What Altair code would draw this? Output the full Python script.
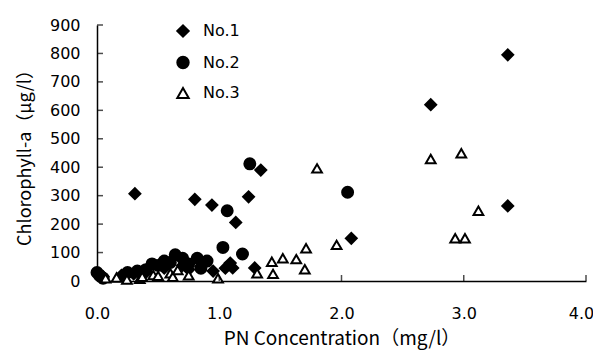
import altair as alt
import pandas as pd

# ---- data ----
series_names = ["No.1", "No.2", "No.3"]

no1_x = [0.02, 0.05, 0.20, 0.30, 0.31, 0.40, 0.55, 0.70, 0.75, 0.80, 0.85, 0.94, 0.95,
         1.05, 1.09, 1.11, 1.135, 1.24, 1.29, 1.34, 2.08, 2.73, 3.36, 3.36]
no1_y = [25, 15, 20, 25, 307, 30, 45, 55, 40, 287, 50, 267, 35,
         45, 63, 46, 206, 296, 46, 390, 150, 620, 795, 264]

no2_x = [0.00, 0.02, 0.05, 0.25, 0.33, 0.40, 0.45, 0.50, 0.55, 0.60, 0.64, 0.70,
         0.75, 0.82, 0.85, 0.90, 1.03, 1.065, 1.19, 1.25, 2.05]
no2_y = [30, 20, 10, 30, 35, 40, 60, 55, 70, 65, 92, 80,
         60, 80, 45, 70, 118, 247, 95, 412, 312]

no3_x = [0.07, 0.16, 0.245, 0.35, 0.37, 0.46, 0.50, 0.60, 0.62, 0.66, 0.75, 0.99,
         1.31, 1.43, 1.44, 1.52, 1.63, 1.70, 1.71, 1.80, 1.96, 2.73, 2.93, 2.98, 3.01, 3.12]
no3_y = [10, 12, 5, 8, 15, 21, 18, 27, 15, 39, 20, 10,
         27, 68, 25, 80, 77, 41, 115, 396, 127, 429, 150, 449, 150, 247]

x_ticks = [0, 1, 2, 3, 4]
y_ticks = [0, 100, 200, 300, 400, 500, 600, 700, 800, 900]

x_title = "PN Concentration（mg/l）"
y_title = "Chlorophyll-a（μg/l）"

rows = []
for name, xs, ys in zip(series_names, [no1_x, no2_x, no3_x], [no1_y, no2_y, no3_y]):
    for xv, yv in zip(xs, ys):
        rows.append({"series": name, "pn": xv, "chl": yv})
df = pd.DataFrame(rows)
df_xt = pd.DataFrame({"pn": x_ticks, "chl": [0] * len(x_ticks)})
df_yt = pd.DataFrame({"pn": [0] * len(y_ticks), "chl": y_ticks})

FONT = "Noto Sans CJK JP"
LFONT = "DejaVu Sans"

xscale = alt.Scale(domain=[0, 4], nice=False, zero=False)
yscale = alt.Scale(domain=[0, 900], nice=False)

xaxis = alt.Axis(values=x_ticks, format=".1f", ticks=False, tickSize=0, grid=False,
                 domainColor="black", domainWidth=1.5, labelPadding=24,
                 labelOffset={"expr": "datum.value == 4 ? -5 : 0"},
                 labelFontSize=16, labelColor="black", labelFont=LFONT, labelOverlap=False,
                 labelFlush=False,
                 title=x_title, titleFont=FONT, titleFontSize=19, titleFontWeight="normal",
                 titleColor="black", titlePadding=8)
yaxis = alt.Axis(values=y_ticks, ticks=False, tickSize=0, grid=False,
                 domainColor="black", domainWidth=1.5, labelPadding=17,
                 labelFontSize=16, labelColor="black", labelFont=LFONT, labelOverlap=False,
                 labelFlush=False,
                 title=y_title, titleFont=FONT, titleFontSize=18, titleFontWeight="normal",
                 titleColor="black", titlePadding=15)


def legend_def():
    return alt.Legend(title=None, orient="none", legendX=78, legendY=-2,
                      labelFont=LFONT, labelFontSize=16, labelColor="black",
                      symbolSize=130, symbolStrokeWidth=2,
                      rowPadding=11.5, labelOffset=12, padding=0)


points = alt.Chart(df).mark_point(filled=False, strokeWidth=2, opacity=1).encode(
    x=alt.X("pn:Q", scale=xscale, axis=xaxis),
    y=alt.Y("chl:Q", scale=yscale, axis=yaxis),
    shape=alt.Shape("series:N",
                    scale=alt.Scale(domain=series_names, range=["diamond", "circle", "triangle-up"]),
                    legend=legend_def()),
    fill=alt.Fill("series:N",
                  scale=alt.Scale(domain=series_names, range=["black", "black", "white"]),
                  legend=legend_def()),
    stroke=alt.Stroke("series:N",
                      scale=alt.Scale(domain=series_names, range=["black", "black", "black"]),
                      legend=legend_def()),
    size=alt.condition(alt.datum.series == "No.3", alt.value(95), alt.value(120)),
    order=alt.Order("series:N"),
)

xticks = alt.Chart(df_xt).mark_tick(orient="vertical", color="black", size=6, thickness=1.5, yOffset=-3).encode(
    x=alt.X("pn:Q", scale=xscale, axis=xaxis),
    y=alt.Y("chl:Q", scale=yscale, axis=yaxis),
)
yticks = alt.Chart(df_yt).mark_tick(orient="horizontal", color="black", size=6, thickness=1.5, xOffset=3).encode(
    x=alt.X("pn:Q", scale=xscale, axis=xaxis),
    y=alt.Y("chl:Q", scale=yscale, axis=yaxis),
)

chart = alt.layer(points, xticks, yticks).properties(
    width=489, height=256,
    autosize=alt.AutoSizeParams(type="none"),
    padding={"left": 89, "top": 17, "right": 7, "bottom": 70},
    background="white",
).configure_view(stroke=None)

chart.save("out.html", embed_options={"renderer": "svg", "actions": False})
